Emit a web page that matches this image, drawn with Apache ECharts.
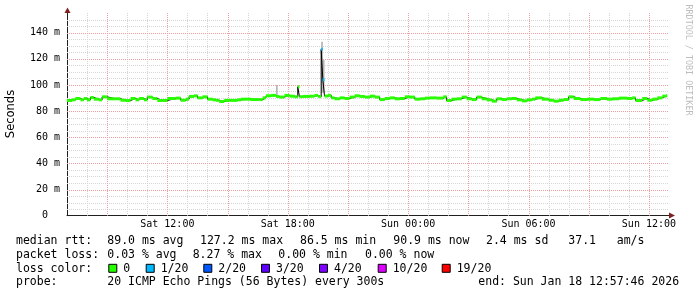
<!DOCTYPE html>
<html><head><meta charset="utf-8">
<script src="https://cdn.jsdelivr.net/npm/echarts@6/dist/echarts.min.js"></script>
<style>html,body{margin:0;padding:0;background:#fff}#c{width:697px;height:297px}</style>
</head><body><div id="c"></div>
<script>
// ---- data ----
const startHour = 7; // axis starts Sat 07:00 (hours counted from Sat 00:00)
const endHour = 37;  // Sun 13:00
const yMax = 155;
const sampleMinutes = [0,15,25,40,50,60,70,80,95,105,120,145,160,175,190,205,215,230,240,255,270,285,300,325,340,355,365,380,390,405,420,435,445,455,470,490,510,520,550,575,585,595,610,625,635,650,665,680,685,690,695,705,725,740,750,755,760,765,770,780,790,800,815,830,845,860,875,890,905,920,935,950,965,980,995,1010,1025,1040,1055,1070,1085,1105,1125,1135,1150,1165,1180,1195,1210,1225,1240,1255,1270,1285,1300,1315,1330,1345,1360,1375,1390,1400,1420,1440,1455,1470,1485,1500,1515,1535,1555,1575,1595,1615,1630,1650,1675,1690,1700,1720,1735,1750,1765,1780,1790];
const medianMs = [88.1,88.6,89.6,88.6,89.6,88.6,90.4,89.1,88.6,90.9,89.4,89.4,88.3,88.1,89.6,88.6,89.6,88.6,90.7,89.6,88.1,88.1,89.6,89.9,88.3,89.1,91.2,91.7,90.1,90.9,89.1,88.6,88.3,87.3,88.2,88.2,88.6,89.1,88.8,88.8,90.1,91.7,92.0,91.2,90.7,92.0,91.4,90.9,90.9,98.6,91.0,91.2,91.4,92.0,91.2,91.0,127.2,104.0,91.5,92.0,90.1,89.4,90.1,89.6,90.7,91.7,91.2,90.7,91.4,90.7,88.8,89.6,90.1,89.4,89.6,90.9,90.7,89.1,89.4,89.9,90.1,89.9,90.9,88.1,89.1,89.4,90.7,89.4,88.8,90.7,89.4,88.6,87.6,89.4,88.8,89.4,89.6,88.6,87.8,88.6,89.1,90.1,89.1,88.3,87.6,88.3,88.8,90.9,89.6,88.8,89.1,88.8,89.6,89.1,89.4,89.9,89.6,90.1,88.1,89.6,88.3,89.1,90.1,91.4,91.7];
const lossEventMinutes = [760, 765];
const lossEventLevel = [1, 1];
const smokeMinutes = [625, 760, 765];
const smokeLowMs = [92.0, 94.0, 94.0];
const smokeHighMs = [100.0, 133.0, 119.0];
const yLabelStep = 20;
const xTickHours = [12, 18, 24, 30, 36];
const xTickLabels = ['Sat 12:00', 'Sat 18:00', 'Sun 00:00', 'Sun 06:00', 'Sun 12:00'];
const lossLabels = ['0', '1/20', '2/20', '3/20', '4/20', '10/20', '19/20'];
const lossColors = ['#26ff00', '#00b8ff', '#0059ff', '#5e00ff', '#7e00ff', '#dd00ff', '#ff0000'];
const rttHeading = 'median rtt:';
const rttStats = ['89.0 ms avg', '127.2 ms max', '86.5 ms min', '90.9 ms now', '2.4 ms sd', '37.1   am/s'];
const lossHeading = 'packet loss:';
const lossStats = ['0.03 % avg', '8.27 % max', '0.00 % min', '0.00 % now'];
const colorHeading = 'loss color:';
const probeHeading = 'probe:';
const probeText = '20 ICMP Echo Pings (56 Bytes) every 300s';
const endText = 'end: Sun Jan 18 12:57:46 2026';
const yAxisTitle = 'Seconds';
const watermark = 'RRDTOOL / TOBI OETIKER';

// ---- build ----
const toHour = m => startHour + m / 60;
const lossAt = m => { const i = lossEventMinutes.indexOf(m); return i < 0 ? 0 : lossEventLevel[i]; };
const linePts = sampleMinutes.map((m, i) => [toHour(m), medianMs[i]]);
const bandData = sampleMinutes.map((m, i) => {
  const next = i + 1 < sampleMinutes.length ? sampleMinutes[i + 1] : m + 5;
  return [toHour(m), toHour(next), medianMs[i], lossAt(m)];
});
const smokeData = smokeMinutes.map((m, i) => [toHour(m), toHour(m + 5), smokeLowMs[i], smokeHighMs[i]]);

// grid lines: [dimension (0 = time, 1 = value), position]
const GRID_MINOR = '#d6d6d6';
const GRID_MAJOR = '#f0a0a0';
const SOLID = [2000, 1];
const minorGrid = [], majorGrid = [];
for (let h = startHour + 1; h < endHour; h++) (h % 3 === 0 ? majorGrid : minorGrid).push([0, h]);
for (let v = 5; v < yMax; v += 5) (v % 20 === 0 ? majorGrid : minorGrid).push([1, v]);

function gridSeries(data, color) {
  return {type: 'custom', silent: true, data: data, z: 1, clip: false,
    renderItem: (params, api) => {
      const cs = params.coordSys;
      const dim = api.value(0), pos = api.value(1);
      let shape;
      if (dim === 0) {
        const x = Math.round(api.coord([pos, 0])[0]) + 0.5;
        shape = {x1: x, y1: cs.y, x2: x, y2: cs.y + cs.height};
      } else {
        const y = Math.round(api.coord([startHour, pos])[1]) + 0.5;
        shape = {x1: cs.x, y1: y, x2: cs.x + cs.width, y2: y};
      }
      return {type: 'line', shape: shape, style: {stroke: color, fill: null, lineWidth: 1, lineDash: [1, 1]}};
    }};
}

const MONO = 'DejaVu Sans Mono';
const FS = 11.5;
const texts = [];
function txt(x, y, s) {
  texts.push({type: 'text', x: x, y: y, silent: true,
    style: {text: s, fill: '#000', font: FS + 'px "' + MONO + '"', textVerticalAlign: 'middle', textAlign: 'left'}});
}
const rowY = [241.3, 254.7, 268.8, 282.3];
txt(16, rowY[0], rttHeading);
[107.3, 200, 300, 393.3, 486, 568.3].forEach((x, i) => txt(x, rowY[0], rttStats[i]));
txt(16, rowY[1], lossHeading);
[107.3, 192.7, 278.3, 365].forEach((x, i) => txt(x, rowY[1], lossStats[i]));
txt(16, rowY[2], colorHeading);
const swatchX = [108.3, 145.7, 203.3, 261, 319, 377.7, 441.7];
swatchX.forEach((x, i) => {
  texts.push({type: 'rect', silent: true, shape: {x: x + 0.5, y: rowY[2] - 4.5, width: 8, height: 8},
    style: {fill: lossColors[i], stroke: '#000', lineWidth: 1, lineDash: SOLID}});
  txt(x + 15, rowY[2], lossLabels[i]);
});
txt(16, rowY[3], probeHeading);
txt(107.3, rowY[3], probeText);
txt(478.3, rowY[3], endText);
texts.push({type: 'text', x: 11, y: 114, rotation: Math.PI / 2, silent: true,
  style: {text: yAxisTitle, fill: '#000', font: '11.5px "DejaVu Sans"', textAlign: 'center', textVerticalAlign: 'middle'}});
texts.push({type: 'text', x: 688, y: 60, rotation: -Math.PI / 2, silent: true,
  style: {text: watermark, fill: '#bdbdbd', font: '8.4px "' + MONO + '"', textAlign: 'center', textVerticalAlign: 'middle'}});
// axis arrows (dark red, as in RRDtool)
const ARROW = '#801f1f';
texts.push({type: 'polygon', silent: true, z: 10, shape: {points: [[669, 212.5], [675, 215.5], [669, 218.5]]}, style: {fill: ARROW}});
texts.push({type: 'polygon', silent: true, z: 10, shape: {points: [[64.5, 13], [67.5, 7.5], [70.5, 13]]}, style: {fill: ARROW}});

const chart = echarts.init(document.getElementById('c'), null, {renderer: 'canvas'});
chart.setOption({
  animation: false,
  backgroundColor: '#fff',
  grid: {left: 67, right: 28, top: 13, bottom: 81.3, containLabel: false},
  xAxis: {
    type: 'value', min: startHour, max: endHour, interval: 1,
    axisLine: {show: true, onZero: false, lineStyle: {color: '#1f1f1f', width: 1, type: SOLID}},
    axisTick: {show: false},
    axisLabel: {margin: 4, color: '#000', fontFamily: MONO, fontSize: 10,
      formatter: v => { const i = xTickHours.indexOf(Math.round(v * 1000) / 1000); return i < 0 ? '' : xTickLabels[i]; }},
    splitLine: {show: false}
  },
  yAxis: {
    type: 'value', min: 0, max: yMax, interval: 5,
    axisLine: {show: true, onZero: false, lineStyle: {color: '#1f1f1f', width: 1, type: SOLID}},
    axisTick: {show: false},
    axisLabel: {margin: 7, color: '#000', fontFamily: MONO, fontSize: 10,
      formatter: v => (v % yLabelStep === 0 && v < yMax) ? (v === 0 ? '0  ' : v + ' m') : ''},
    splitLine: {show: false}
  },
  series: [
    gridSeries(minorGrid, GRID_MINOR),
    gridSeries(majorGrid, GRID_MAJOR),
    {type: 'custom', silent: true, data: smokeData, z: 2,
      renderItem: (params, api) => {
        const a = api.coord([api.value(0), api.value(3)]);
        const b = api.coord([api.value(1), api.value(2)]);
        return {type: 'rect', shape: {x: a[0], y: a[1], width: Math.max(1, b[0] - a[0]), height: b[1] - a[1]},
          style: {fill: '#b4b4b4'}};
      }},
    {type: 'line', data: linePts, step: 'end', symbol: 'none', silent: true, z: 3,
      lineStyle: {color: '#000', width: 1, type: SOLID}},
    {type: 'custom', silent: true, data: bandData, z: 4,
      renderItem: (params, api) => {
        const a = api.coord([api.value(0), api.value(2)]);
        const b = api.coord([api.value(1), api.value(2)]);
        return {type: 'rect', shape: {x: a[0], y: a[1] - 1.5, width: Math.max(1, b[0] - a[0]), height: 3},
          style: {fill: lossColors[api.value(3)]}};
      }}
  ],
  graphic: texts
});
</script></body></html>
